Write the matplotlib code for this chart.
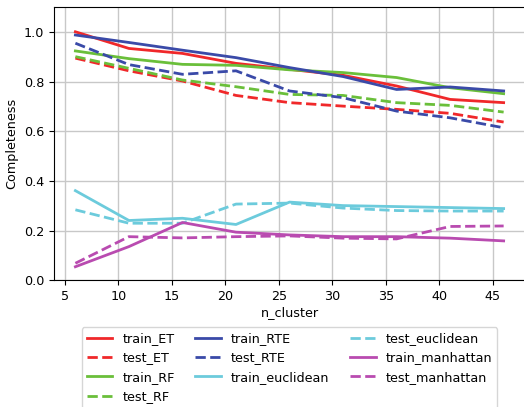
import numpy as np
import matplotlib.pyplot as plt

n_cluster = [6, 11, 16, 21, 26, 31, 36, 41, 46]

train_ET = [1.00, 0.933, 0.913, 0.873, 0.849, 0.825, 0.782, 0.728, 0.715]
test_ET = [0.894, 0.843, 0.802, 0.744, 0.715, 0.701, 0.688, 0.672, 0.637]
train_RF = [0.923, 0.892, 0.869, 0.865, 0.847, 0.836, 0.816, 0.775, 0.751]
test_RF = [0.900, 0.853, 0.806, 0.779, 0.748, 0.744, 0.715, 0.704, 0.677]
train_RTE = [0.987, 0.957, 0.926, 0.896, 0.856, 0.820, 0.768, 0.778, 0.762]
test_RTE = [0.954, 0.868, 0.829, 0.843, 0.762, 0.735, 0.681, 0.654, 0.614]
train_euclidean = [0.361, 0.241, 0.250, 0.225, 0.315, 0.301, 0.297, 0.293, 0.289]
test_euclidean = [0.284, 0.230, 0.230, 0.307, 0.311, 0.291, 0.281, 0.279, 0.279]
train_manhattan = [0.055, 0.136, 0.233, 0.194, 0.183, 0.176, 0.176, 0.170, 0.159]
test_manhattan = [0.069, 0.176, 0.171, 0.176, 0.179, 0.170, 0.167, 0.217, 0.219]

series = [
    ("train_ET", train_ET, "#f0282a", "-"),
    ("test_ET", test_ET, "#f0282a", "--"),
    ("train_RF", train_RF, "#6abf3a", "-"),
    ("test_RF", test_RF, "#6abf3a", "--"),
    ("train_RTE", train_RTE, "#3a4aa8", "-"),
    ("test_RTE", test_RTE, "#3a4aa8", "--"),
    ("train_euclidean", train_euclidean, "#6ccbdc", "-"),
    ("test_euclidean", test_euclidean, "#6ccbdc", "--"),
    ("train_manhattan", train_manhattan, "#b94bb0", "-"),
    ("test_manhattan", test_manhattan, "#b94bb0", "--"),
]

plt.rcParams['font.size'] = 9.2

fig = plt.figure(figsize=(5.24, 4.07), dpi=100)
ax = fig.add_axes([0.103, 0.311, 0.899, 0.672])

for name, vals, color, ls in series:
    ax.plot(n_cluster, vals, color=color, linestyle=ls, linewidth=2, label=name)

ax.set_xlim(4, 48)
ax.set_ylim(0, 1.1)
ax.set_xticks(np.arange(5, 50, 5))
ax.set_yticks(np.arange(0, 1.01, 0.2))
ax.grid(True, color="#c8c8c8", linewidth=1)
ax.set_axisbelow(True)
ax.set_xlabel("n_cluster", labelpad=2)
ax.set_ylabel("Completeness")

ax.legend(loc="upper center", bbox_to_anchor=(0.5, -0.147), ncol=3,
          handlelength=2.0, columnspacing=1.6, labelspacing=0.5)

fig.savefig("out.png", dpi=100)
